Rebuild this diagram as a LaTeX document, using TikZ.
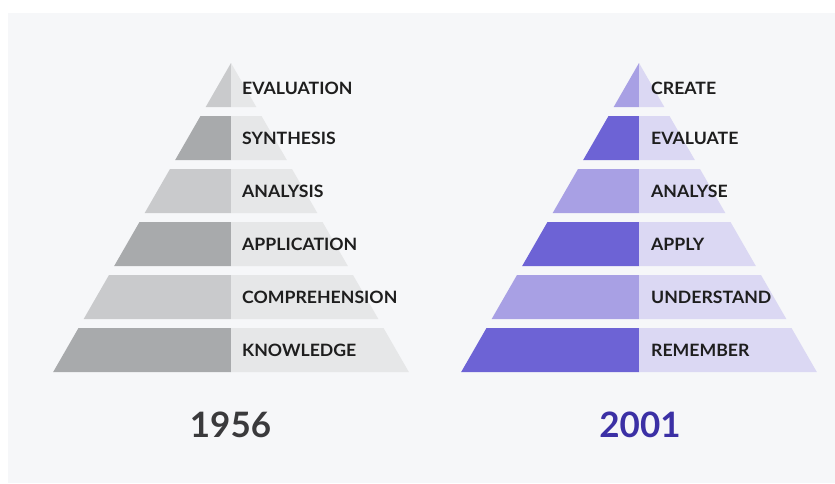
\documentclass[tikz,border=0pt]{standalone}
\usepackage{fontspec}
\setmainfont{Lato}
\newfontfamily\lblfont{Lato}[FakeStretch=1.04]
\definecolor{panel}{HTML}{F6F7F9}
\definecolor{gdark}{HTML}{A8AAAC}
\definecolor{glight}{HTML}{C9CACC}
\definecolor{gright}{HTML}{E6E7E8}
\definecolor{pdark}{HTML}{6D63D5}
\definecolor{plight}{HTML}{A8A0E4}
\definecolor{pright}{HTML}{DBD8F3}
\definecolor{labeltext}{HTML}{1E1E1E}
\definecolor{yeargray}{HTML}{3A3A3C}
\definecolor{yearpurple}{HTML}{3B30A5}
\tikzset{
  lvl/.style={anchor=west, inner sep=0pt, text height=12.6pt, text depth=0pt, text=labeltext, font=\lblfont\fontsize{17}{17}\selectfont\bfseries},
  yearlbl/.style={inner sep=0pt, text height=25pt, text depth=0pt, font=\fontsize{35}{35}\selectfont\bfseries}
}
\begin{document}
\begin{tikzpicture}[x=1pt,y=-1pt]
\useasboundingbox (0,0) rectangle (835,483);
\fill[panel] (8,13) rectangle (835,483);
% pyramids
\def\sl{0.5755}
\foreach \cx/\dk/\lt/\rt in {231/gdark/glight/gright, 639/pdark/plight/pright}{
  \foreach \i in {0,...,5}{
    \pgfmathsetmacro{\yt}{63+53*\i}
    \pgfmathsetmacro{\yb}{\yt+44}
    \pgfmathsetmacro{\wt}{(\yt-63)*\sl}
    \pgfmathsetmacro{\wb}{(\yb-63)*\sl}
    \pgfmathsetmacro{\isdark}{mod(\i,2)}
    \ifdim\isdark pt>0.5pt \def\lc{\dk}\else\def\lc{\lt}\fi
    \fill[\lc] (\cx-\wt,\yt) -- (\cx,\yt) -- (\cx,\yb) -- (\cx-\wb,\yb) -- cycle;
    \fill[\rt] (\cx,\yt) -- (\cx+\wt,\yt) -- (\cx+\wb,\yb) -- (\cx,\yb) -- cycle;
  }
}
% labels 1956
\node[lvl] (l1) at (242,88) {EVALUATION};
\node[lvl] (l2) at (242,138) {SYNTHESIS};
\node[lvl] (l3) at (242,191) {ANALYSIS};
\node[lvl] (l4) at (242,244) {APPLICATION};
\node[lvl] (l5) at (242,297) {COMPREHENSION};
\node[lvl] (l6) at (242,350) {KNOWLEDGE};
% labels 2001
\node[lvl] (r1) at (651,88) {CREATE};
\node[lvl] (r2) at (651,138) {EVALUATE};
\node[lvl] (r3) at (651,191) {ANALYSE};
\node[lvl] (r4) at (651,244) {APPLY};
\node[lvl] (r5) at (651,297) {UNDERSTAND};
\node[lvl] (r6) at (651,350) {REMEMBER};
% years
\node[yearlbl, text=yeargray] (y1) at (230.5,424.5) {1956};
\node[yearlbl, text=yearpurple] (y2) at (640,424.5) {2001};
\end{tikzpicture}
\end{document}
